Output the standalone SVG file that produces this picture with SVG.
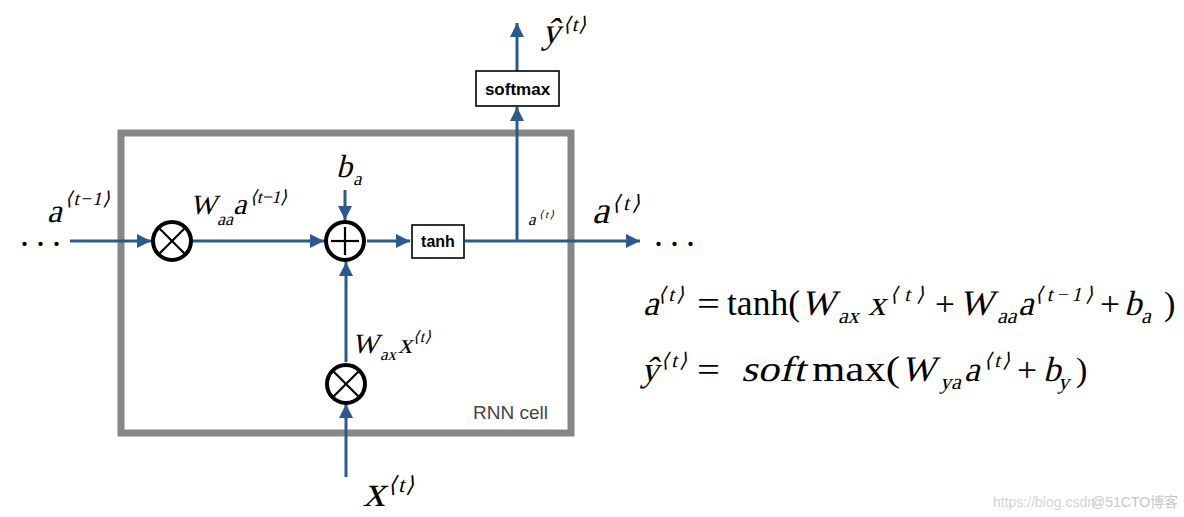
<svg xmlns="http://www.w3.org/2000/svg" width="1184" height="517" viewBox="0 0 1184 517">
<defs>
<style>
.m{font-family:"Liberation Serif","Times New Roman",serif;font-style:normal;fill:#000}
.u{font-family:"Liberation Serif","Times New Roman",serif;font-style:normal;fill:#000}
.br{font-family:"DejaVu Serif","DejaVu Sans",serif;font-style:normal}
.lbl{font-family:"Liberation Sans",Arial,sans-serif;font-weight:bold;fill:#000}
.edge{stroke:#2a5a8f;stroke-width:3;fill:none}
.op{fill:#fff;stroke:#000;stroke-width:4}
.opl{stroke:#000;stroke-width:2.2}
.box{fill:#fff;stroke:#000;stroke-width:1.6}
</style>
<marker id="ah" markerUnits="userSpaceOnUse" markerWidth="14" markerHeight="14" refX="14" refY="7" orient="auto">
<path d="M0,0 L14,7 L0,14 z" fill="#2a5a8f"/>
</marker>
</defs>
<rect width="1184" height="517" fill="#fff"/>

<g id="cell">
<rect x="121" y="133" width="450" height="300" fill="none" stroke="#86868b" stroke-width="7"/>
<text x="473" y="419" font-family="Liberation Sans,Arial,sans-serif" font-size="19" fill="#444">RNN cell</text>
</g>

<g id="connectors">
<line class="edge" x1="70" y1="241" x2="151" y2="241" marker-end="url(#ah)"/>
<line class="edge" x1="193" y1="241" x2="324" y2="241" marker-end="url(#ah)"/>
<line class="edge" x1="345" y1="190" x2="345" y2="220" marker-end="url(#ah)"/>
<line class="edge" x1="367" y1="241" x2="410" y2="241" marker-end="url(#ah)"/>
<line class="edge" x1="465" y1="241" x2="640" y2="241" marker-end="url(#ah)"/>
<line class="edge" x1="517" y1="242" x2="517" y2="107" marker-end="url(#ah)"/>
<line class="edge" x1="517" y1="71" x2="517" y2="23" marker-end="url(#ah)"/>
<line class="edge" x1="346" y1="477" x2="346" y2="404" marker-end="url(#ah)"/>
<line class="edge" x1="346" y1="362" x2="346" y2="262" marker-end="url(#ah)"/>
</g>

<g id="mul1">
<circle class="op" cx="172" cy="241" r="19"/>
<line class="opl" x1="159" y1="228" x2="185" y2="254"/>
<line class="opl" x1="185" y1="228" x2="159" y2="254"/>
</g>
<g id="add">
<circle class="op" cx="345" cy="241" r="19"/>
<line class="opl" x1="331" y1="241" x2="359" y2="241"/>
<line class="opl" x1="345" y1="227" x2="345" y2="255"/>
</g>
<g id="mul2">
<circle class="op" cx="346" cy="384" r="19"/>
<line class="opl" x1="333" y1="371" x2="359" y2="397"/>
<line class="opl" x1="359" y1="371" x2="333" y2="397"/>
</g>
<g id="tanh">
<rect class="box" x="412" y="225" width="52" height="33"/>
<text class="lbl" x="438" y="247" font-size="16" text-anchor="middle">tanh</text>
</g>
<g id="softmax">
<rect class="box" x="476" y="71" width="83" height="35"/>
<text class="lbl" x="517.5" y="95" font-size="17" text-anchor="middle">softmax</text>
</g>

<g id="labels">
<text class="u" x="20" y="246" font-size="36" letter-spacing="7">...</text>
<text class="u" x="654" y="246" font-size="36" letter-spacing="7">...</text>
<text class="m" transform="translate(47,222) skewX(-14)" font-size="33">a</text>
<text class="m" transform="translate(65,205) skewX(-14)" font-size="19" textLength="45" lengthAdjust="spacing"><tspan class="br">⟨</tspan>t−1<tspan class="br">⟩</tspan></text>
<text class="m" transform="translate(190,214) skewX(-14)" font-size="28">W</text>
<text class="m" transform="translate(217,225) skewX(-14)" font-size="18">aa</text>
<text class="m" transform="translate(233,214) skewX(-14)" font-size="30">a</text>
<text class="m" transform="translate(250,203) skewX(-14)" font-size="18" textLength="37" lengthAdjust="spacing"><tspan class="br">⟨</tspan>t−1<tspan class="br">⟩</tspan></text>
<text class="m" transform="translate(336,177) skewX(-14)" font-size="32">b</text>
<text class="m" transform="translate(353,185) skewX(-14)" font-size="19">a</text>
<text class="m" transform="translate(528,225) skewX(-14)" font-size="17">a</text>
<text class="m" transform="translate(539,218) skewX(-14)" font-size="11" textLength="15" lengthAdjust="spacing"><tspan class="br">⟨</tspan>t<tspan class="br">⟩</tspan></text>
<text class="m" transform="translate(592,223) skewX(-14)" font-size="38">a</text>
<text class="m" transform="translate(612,210) skewX(-14)" font-size="21" textLength="28" lengthAdjust="spacing"><tspan class="br">⟨</tspan>t<tspan class="br">⟩</tspan></text>
<text class="m" transform="translate(542,43) skewX(-14)" font-size="36">ŷ</text>
<text class="m" transform="translate(563,31) skewX(-14)" font-size="20" textLength="23" lengthAdjust="spacing"><tspan class="br">⟨</tspan>t<tspan class="br">⟩</tspan></text>
<text class="m" transform="translate(352,353) skewX(-14)" font-size="28">W</text>
<text class="m" transform="translate(380,360) skewX(-14)" font-size="17">ax</text>
<text class="m" transform="translate(398,353) skewX(-14)" font-size="28">x</text>
<text class="m" transform="translate(413,342) skewX(-14)" font-size="16" textLength="18" lengthAdjust="spacing"><tspan class="br">⟨</tspan>t<tspan class="br">⟩</tspan></text>
<text class="m" transform="translate(363,506) skewX(-14)" font-size="44">x</text>
<text class="m" transform="translate(388,492) skewX(-14)" font-size="22" textLength="26" lengthAdjust="spacing"><tspan class="br">⟨</tspan>t<tspan class="br">⟩</tspan></text>
</g>

<g id="equation1">
<text class="m" transform="translate(643,315) skewX(-14)" font-size="35">a</text>
<text class="m" transform="translate(658,301) skewX(-14)" font-size="20" textLength="26" lengthAdjust="spacing"><tspan class="br">⟨</tspan>t<tspan class="br">⟩</tspan></text>
<text class="u" x="697" y="315" font-size="34" textLength="23" lengthAdjust="spacingAndGlyphs">=</text>
<text class="u" x="727" y="315" font-size="35" textLength="73" lengthAdjust="spacingAndGlyphs">tanh(</text>
<text class="m" transform="translate(801,315) skewX(-14)" font-size="36">W</text>
<text class="m" transform="translate(838,323) skewX(-14)" font-size="22">ax</text>
<text class="m" transform="translate(868,315) skewX(-14)" font-size="35">x</text>
<text class="m" transform="translate(890,301) skewX(-14)" font-size="20" textLength="34" lengthAdjust="spacing"><tspan class="br">⟨</tspan>t<tspan class="br">⟩</tspan></text>
<text class="u" x="935" y="315" font-size="34" textLength="20" lengthAdjust="spacingAndGlyphs">+</text>
<text class="m" transform="translate(959,315) skewX(-14)" font-size="36">W</text>
<text class="m" transform="translate(997,323) skewX(-14)" font-size="22">aa</text>
<text class="m" transform="translate(1018,315) skewX(-14)" font-size="35">a</text>
<text class="m" transform="translate(1035,301) skewX(-14)" font-size="20" textLength="58" lengthAdjust="spacing"><tspan class="br">⟨</tspan>t−1<tspan class="br">⟩</tspan></text>
<text class="u" x="1100" y="315" font-size="34" textLength="20" lengthAdjust="spacingAndGlyphs">+</text>
<text class="m" transform="translate(1124,315) skewX(-14)" font-size="35">b</text>
<text class="m" transform="translate(1141,323) skewX(-14)" font-size="22">a</text>
<text class="u" x="1164" y="315" font-size="34">)</text>
</g>

<g id="equation2">
<text class="m" transform="translate(641,381) skewX(-14)" font-size="35">ŷ</text>
<text class="m" transform="translate(661,367) skewX(-14)" font-size="20" textLength="26" lengthAdjust="spacing"><tspan class="br">⟨</tspan>t<tspan class="br">⟩</tspan></text>
<text class="u" x="697" y="381" font-size="34" textLength="23" lengthAdjust="spacingAndGlyphs">=</text>
<text class="m" transform="translate(741,381) skewX(-14)" font-size="36" textLength="64" lengthAdjust="spacingAndGlyphs">soft</text>
<text class="u" x="812" y="381" font-size="35" textLength="88" lengthAdjust="spacingAndGlyphs">max(</text>
<text class="m" transform="translate(901,381) skewX(-14)" font-size="36">W</text>
<text class="m" transform="translate(940,389) skewX(-14)" font-size="22">ya</text>
<text class="m" transform="translate(964,381) skewX(-14)" font-size="35">a</text>
<text class="m" transform="translate(984,367) skewX(-14)" font-size="20" textLength="26" lengthAdjust="spacing"><tspan class="br">⟨</tspan>t<tspan class="br">⟩</tspan></text>
<text class="u" x="1017" y="381" font-size="34" textLength="20" lengthAdjust="spacingAndGlyphs">+</text>
<text class="m" transform="translate(1043,381) skewX(-14)" font-size="35">b</text>
<text class="m" transform="translate(1058,389) skewX(-14)" font-size="22">y</text>
<text class="u" x="1076" y="381" font-size="34">)</text>
</g>

<g id="watermark">
<text x="993" y="507" font-family="Liberation Sans,'Noto Sans CJK SC',sans-serif" font-size="14" fill="#d4d4d4">https://blog.csdn<tspan x="1091" fill="#c8c8c8">@51CTO博客</tspan></text>
</g>
</svg>
